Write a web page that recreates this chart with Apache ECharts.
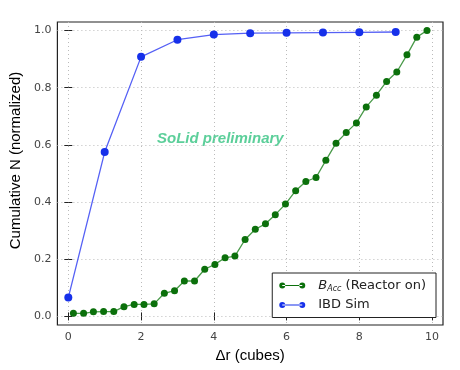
<!DOCTYPE html>
<html>
<head>
<meta charset="utf-8">
<script src="https://cdn.jsdelivr.net/npm/echarts@6/dist/echarts.min.js"></script>
<style>
  html, body { margin: 0; padding: 0; background: #fff; }
  #chart { width: 460px; height: 370px; }
</style>
</head>
<body>
<div id="chart"></div>
<script>
// IBD simulation, one point per cube
var ibdX = [0, 1, 2, 3, 4, 5, 6, 7, 8, 9];
var ibdY = [0.066, 0.575, 0.908, 0.968, 0.986, 0.991, 0.992, 0.993, 0.994, 0.995];

// accidental background, reactor on
var accX = [0.14, 0.42, 0.69, 0.97, 1.25, 1.53, 1.81, 2.08, 2.36, 2.64, 2.92, 3.19,
            3.47, 3.75, 4.03, 4.31, 4.58, 4.86, 5.14, 5.42, 5.69, 5.97, 6.25, 6.53,
            6.81, 7.08, 7.36, 7.64, 7.92, 8.19, 8.47, 8.75, 9.03, 9.31, 9.58, 9.86];
var accY = [0.011, 0.011, 0.016, 0.017, 0.017, 0.034, 0.042, 0.042, 0.044, 0.081, 0.090, 0.124,
            0.124, 0.165, 0.182, 0.205, 0.211, 0.269, 0.305, 0.324, 0.356, 0.393, 0.440, 0.472,
            0.486, 0.546, 0.606, 0.643, 0.677, 0.733, 0.774, 0.822, 0.855, 0.915, 0.977, 1.000];

var xTicks = [0, 2, 4, 6, 8, 10];
var yTicks = [0.0, 0.2, 0.4, 0.6, 0.8, 1.0];

function pairs(xs, ys) {
  var out = [];
  for (var i = 0; i < xs.length; i++) out.push([xs[i], ys[i]]);
  return out;
}

var legendIcon = 'path://M1,4a3,3 0 1,0 6,0a3,3 0 1,0 -6,0Z M21,4a3,3 0 1,0 6,0a3,3 0 1,0 -6,0Z M4,3.4H24V4.6H4Z';

var myChart = echarts.init(document.getElementById('chart'));

function tickStyle(vals) {
  return { show: true, inside: true, length: 4, customValues: vals, lineStyle: { color: '#222' } };
}
var gridLine = { show: true, lineStyle: { color: '#bbb', type: [1, 3], width: 1 } };

myChart.setOption({
  animation: false,
  backgroundColor: '#fff',
  grid: {
    left: 57, right: 17, top: 22, bottom: 45,
    show: true, borderColor: '#222', borderWidth: 1.2, backgroundColor: 'transparent'
  },
  xAxis: [{
    type: 'value', min: -0.3, max: 10.3,
    name: 'Δr (cubes)', nameLocation: 'middle', nameGap: 22,
    nameTextStyle: { fontFamily: 'Liberation Sans', fontSize: 15, color: '#000' },
    axisLine: { show: false },
    axisTick: tickStyle(xTicks),
    splitLine: gridLine,
    axisLabel: {
      fontFamily: 'DejaVu Sans', fontSize: 11, color: '#444', margin: 7,
      customValues: xTicks,
      formatter: function (v) { return String(v); }
    }
  }, {
    type: 'value', position: 'top', min: -0.3, max: 10.3,
    axisLine: { show: false }, axisTick: tickStyle(xTicks), axisLabel: { show: false }, splitLine: { show: false }
  }],
  yAxis: [{
    type: 'value', min: -0.03, max: 1.03,
    name: 'Cumulative N (normalized)', nameLocation: 'middle', nameGap: 33,
    nameTextStyle: { fontFamily: 'Liberation Sans', fontSize: 15, color: '#000', padding: [0, 0, 0, 26] },
    axisLine: { show: false },
    axisTick: tickStyle(yTicks),
    splitLine: gridLine,
    axisLabel: {
      fontFamily: 'DejaVu Sans', fontSize: 11, color: '#444', margin: 6,
      customValues: yTicks,
      formatter: function (v) { return v.toFixed(1); }
    }
  }, {
    type: 'value', position: 'right', min: -0.03, max: 1.03,
    axisLine: { show: false }, axisTick: tickStyle(yTicks), axisLabel: { show: false }, splitLine: { show: false }
  }],
  legend: {
    orient: 'vertical', right: 24, top: 273,
    padding: [6, 10, 6, 7], itemGap: 6,
    itemWidth: 26, itemHeight: 8,
    borderColor: '#222', borderWidth: 1, borderRadius: 0, backgroundColor: '#fff',
    data: [
      { name: 'BAcc', icon: legendIcon },
      { name: 'IBD Sim', icon: legendIcon }
    ],
    formatter: function (name) {
      if (name === 'BAcc') return '{i|B}{s|Acc}{t| (Reactor on)}';
      return '{t|' + name + '}';
    },
    textStyle: {
      padding: [0, 0, 0, 8],
      rich: {
        i: { fontFamily: 'DejaVu Sans', fontStyle: 'italic', fontSize: 13, color: '#222' },
        s: { fontFamily: 'DejaVu Sans', fontStyle: 'italic', fontSize: 8, color: '#222', padding: [6, 0, 0, 0] },
        t: { fontFamily: 'DejaVu Sans', fontSize: 13, color: '#222' }
      }
    }
  },
  graphic: [{
    type: 'text', left: 157, top: 131,
    style: {
      text: 'SoLid preliminary', fill: '#5ccf9a',
      font: 'italic bold 15px "Liberation Sans"'
    }
  }],
  series: [
    {
      name: 'BAcc', type: 'line', data: pairs(accX, accY),
      symbol: 'circle', symbolSize: 7,
      itemStyle: { color: '#0b700b' },
      lineStyle: { color: '#4a9a4a', width: 1.3 },
      z: 3
    },
    {
      name: 'IBD Sim', type: 'line', data: pairs(ibdX, ibdY),
      symbol: 'circle', symbolSize: 8,
      itemStyle: { color: '#1630ea' },
      lineStyle: { color: '#5560f5', width: 1.3 },
      z: 3
    }
  ]
});
</script>
</body>
</html>
